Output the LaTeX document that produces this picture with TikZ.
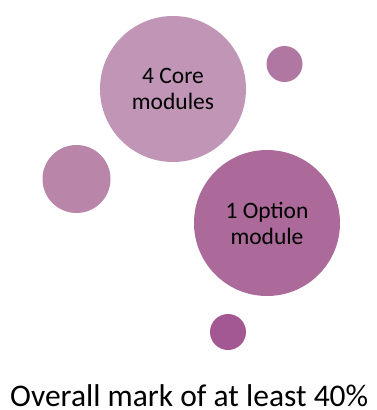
\documentclass[tikz,border=0pt]{standalone}
\usepackage{fontspec}
\setmainfont{Carlito}
\definecolor{bubbleA}{HTML}{C095B5}
\definecolor{bubbleB}{HTML}{B077A3}
\definecolor{bubbleC}{HTML}{B986AA}
\definecolor{bubbleD}{HTML}{AB6A9A}
\definecolor{bubbleE}{HTML}{A45893}
\tikzset{
  bubble/.style={circle, inner sep=0pt, align=center, text=black,
    font=\fontsize{23.5}{26}\selectfont}
}
\begin{document}
\begin{tikzpicture}[x=1pt,y=-1pt]
            \useasboundingbox (0,0) rectangle (376,410);
            \node[bubble, fill=bubbleA, minimum size=146pt] (core) at (173,89) {4 Core\\modules};
            \node[bubble, fill=bubbleB, minimum size=36pt] (dotright) at (284.5,64) {};
            \node[bubble, fill=bubbleC, minimum size=68pt] (dotleft) at (76.5,179) {};
            \node[bubble, fill=bubbleD, minimum size=146pt] (option) at (267,223) {1 Option\\module};
            \node[bubble, fill=bubbleE, minimum size=36pt] (dotbottom) at (228,332) {};
            \node[anchor=base west, inner sep=0pt, font=\fontsize{31.5}{38}\selectfont] (mark) at (10,406) {Overall mark of at least 40\%};
        \end{tikzpicture}
\end{document}
